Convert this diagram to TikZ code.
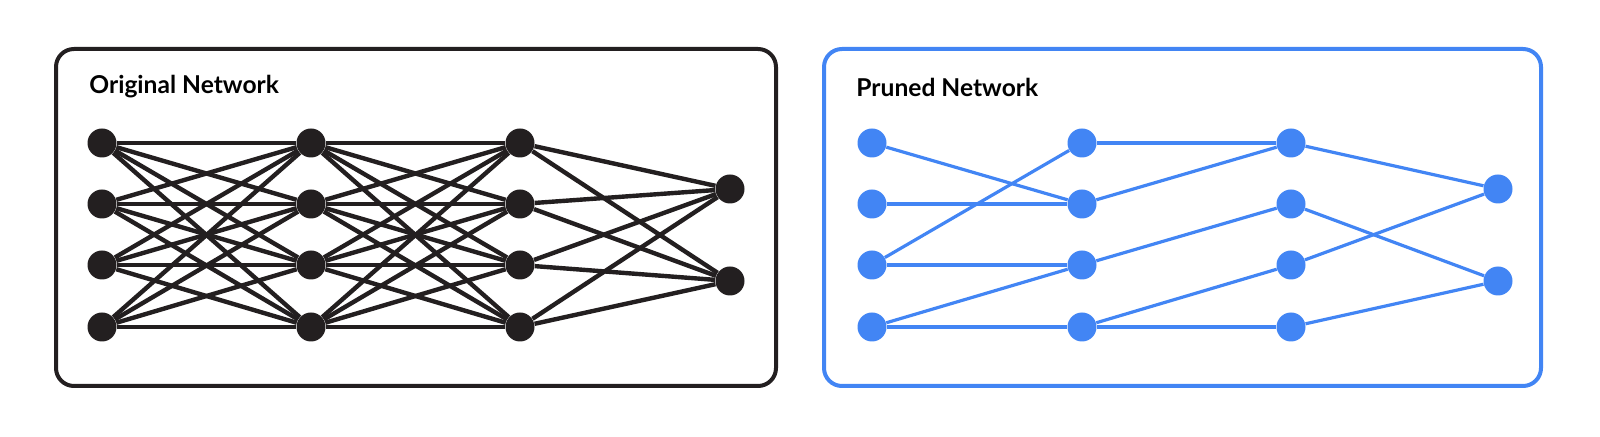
\documentclass[tikz,border=0pt]{standalone}
\usepackage{fontspec}
\setmainfont{Lato}
\usepackage{tikz}
\usepackage{xcolor}
\definecolor{inkblack}{HTML}{231F20}
\definecolor{pruneblue}{HTML}{4285F4}

\begin{document}
\begin{tikzpicture}[
  x=0.5pt, y=-0.5pt,
  panel/.style={draw, line width=2pt, rounded corners=9pt},
  neuron/.style={circle, inner sep=0pt, minimum size=14.5pt},
  fullNeuron/.style={neuron, fill=inkblack},
  prunedNeuron/.style={neuron, fill=pruneblue},
  fullLink/.style={line width=2.2pt, inkblack},
  prunedLink/.style={line width=1.6pt, pruneblue},
  title/.style={anchor=west, font=\fontsize{12.3}{14}\selectfont\bfseries, inner sep=0pt}
]
\useasboundingbox (0,0) rectangle (1600,437);

% frames
\draw[panel, inkblack] (56,49) rectangle (776,386);
\draw[panel, pruneblue] (824,49) rectangle (1541,386);

\node[title] (origTitle) at (89,87) {Original Network};
\node[title] (prunTitle) at (856,87) {Pruned Network};

% original network
\foreach \i/\y in {1/143, 2/204, 3/265, 4/327} {
  \node[fullNeuron] (a\i) at (102,\y) {};
  \node[fullNeuron] (b\i) at (311,\y) {};
  \node[fullNeuron] (c\i) at (520,\y) {};
}
\node[fullNeuron] (d1) at (730,189) {};
\node[fullNeuron] (d2) at (730,281) {};

\foreach \i in {1,...,4} {
  \foreach \j in {1,...,4} {
    \draw[fullLink] (a\i) -- (b\j);
    \draw[fullLink] (b\i) -- (c\j);
  }
  \draw[fullLink] (c\i) -- (d1);
  \draw[fullLink] (c\i) -- (d2);
}

% pruned network
\foreach \i/\y in {1/143, 2/204, 3/265, 4/327} {
  \node[prunedNeuron] (pa\i) at (872,\y) {};
  \node[prunedNeuron] (pb\i) at (1082,\y) {};
  \node[prunedNeuron] (pc\i) at (1291,\y) {};
}
\node[prunedNeuron] (pd1) at (1498,189) {};
\node[prunedNeuron] (pd2) at (1498,281) {};

\foreach \s/\t in {pa1/pb2, pa2/pb2, pa3/pb1, pa3/pb3, pa4/pb3, pa4/pb4,
                   pb1/pc1, pb2/pc1, pb3/pc2, pb4/pc3, pb4/pc4,
                   pc1/pd1, pc2/pd2, pc3/pd1, pc4/pd2}
  \draw[prunedLink] (\s) -- (\t);

\end{tikzpicture}
\end{document}
